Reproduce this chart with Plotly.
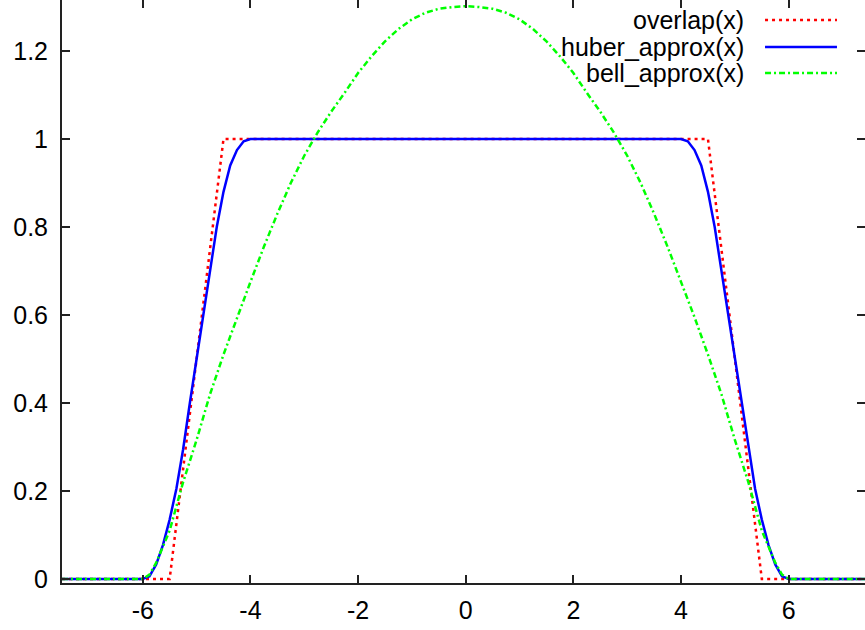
import plotly.graph_objects as go

# ---- data ----
overlap_x = [-7.5, -5.5, -4.5, 4.5, 5.5, 7.5]
overlap_y = [0.0, 0.0, 1.0, 1.0, 0.0, 0.0]

huber_x = [-7.5, -6.0, -5.875, -5.75, -5.625, -5.5, -5.375, -5.25, -5.125, -5.0,
           -4.875, -4.75, -4.625, -4.5, -4.375, -4.25, -4.125, -4.0,
           4.0, 4.125, 4.25, 4.375, 4.5, 4.625, 4.75, 4.875, 5.0,
           5.125, 5.25, 5.375, 5.5, 5.625, 5.75, 5.875, 6.0, 7.5]
huber_y = [0.0, 0.0, 0.006, 0.033, 0.077, 0.135, 0.205, 0.295, 0.400, 0.500,
           0.603, 0.700, 0.800, 0.880, 0.940, 0.975, 0.995, 1.0,
           1.0, 0.995, 0.975, 0.940, 0.880, 0.800, 0.700, 0.603, 0.500,
           0.400, 0.295, 0.205, 0.135, 0.077, 0.033, 0.006, 0.0, 0.0]

bell_x = [-7.5, -6.0, -5.875, -5.75, -5.5, -5.25, -5.0, -4.75, -4.5, -4.25, -4.0,
          -3.75, -3.5, -3.25, -3.0, -2.75, -2.5, -2.25, -2.0, -1.75, -1.5,
          -1.25, -1.0, -0.75, -0.5, -0.25, 0.0,
          0.25, 0.5, 0.75, 1.0, 1.25, 1.5, 1.75, 2.0, 2.25, 2.5,
          2.75, 3.0, 3.25, 3.5, 3.75, 4.0, 4.25, 4.5, 4.75, 5.0,
          5.25, 5.5, 5.75, 5.875, 6.0, 7.5]
bell_y = [0.0, 0.0, 0.010, 0.037, 0.110, 0.220, 0.316, 0.420, 0.510, 0.595, 0.675,
          0.755, 0.830, 0.900, 0.962, 1.015, 1.062, 1.105, 1.150, 1.188, 1.222,
          1.250, 1.272, 1.287, 1.296, 1.300, 1.302,
          1.300, 1.296, 1.287, 1.272, 1.250, 1.222, 1.188, 1.150, 1.105, 1.062,
          1.015, 0.962, 0.900, 0.830, 0.755, 0.675, 0.595, 0.510, 0.420, 0.316,
          0.220, 0.110, 0.037, 0.010, 0.0, 0.0]

x_ticks = [-6, -4, -2, 0, 2, 4, 6]
x_tick_labels = ["-6", "-4", "-2", "0", "2", "4", "6"]
y_ticks = [0, 0.2, 0.4, 0.6, 0.8, 1.0, 1.2]
y_tick_labels = ["0", "0.2", "0.4", "0.6", "0.8", "1", "1.2"]

series_names = ["overlap(x)", "huber_approx(x)", "bell_approx(x)"]
series_colors = ["#ff0000", "#0000ff", "#00ff00"]
series_dash = ["3px,4px", "solid", "6px,3px,2px,3px"]

X_RANGE = [-7.5, 7.417]
Y_RANGE = [-0.0091, 1.316]
FONT = "Liberation Sans, Arial, sans-serif"

fig = go.Figure()
for xs, ys, nm, col, dsh in zip([overlap_x, huber_x, bell_x],
                                [overlap_y, huber_y, bell_y],
                                series_names, series_colors, series_dash):
    fig.add_trace(go.Scatter(x=xs, y=ys, mode="lines", name=nm,
                             line=dict(color=col, width=2.5, dash=dsh),
                             showlegend=False))

# invisible trace for mirrored top/right tick axes
fig.add_trace(go.Scatter(x=[None], y=[None], xaxis="x2", yaxis="y2",
                         showlegend=False, hoverinfo="skip"))

axis_common = dict(showgrid=False, zeroline=False, ticks="inside", ticklen=8,
                   tickwidth=1.5, tickcolor="#222", automargin=False)

fig.update_layout(
    width=865, height=630,
    margin=dict(l=62, r=0, t=0, b=47),
    paper_bgcolor="white", plot_bgcolor="white",
    font=dict(family=FONT, size=25, color="black"),
    xaxis=dict(range=X_RANGE, tickvals=x_ticks, ticktext=x_tick_labels,
               showline=True, linecolor="#222", linewidth=2,
               ticklabelstandoff=4, **axis_common),
    yaxis=dict(range=Y_RANGE, tickvals=y_ticks, ticktext=y_tick_labels,
               showline=True, linecolor="#222", linewidth=2,
               ticklabelstandoff=7, **axis_common),
    xaxis2=dict(range=X_RANGE, tickvals=x_ticks, overlaying="x", side="top",
                showticklabels=False, showline=False, **axis_common),
    yaxis2=dict(range=Y_RANGE, tickvals=y_ticks, overlaying="y", side="right",
                showticklabels=False, showline=False, **axis_common),
)

# legend built manually (text right-aligned, sample to the right)
legend_y = [0.9657, 0.9194, 0.8748]
for nm, col, dsh, ly in zip(series_names, series_colors, series_dash, legend_y):
    fig.add_annotation(x=0.8506, y=ly, xref="paper", yref="paper",
                       text=nm, showarrow=False, xanchor="right", yanchor="middle",
                       font=dict(family=FONT, size=25, color="black"), borderpad=0)
    fig.add_shape(type="line", xref="paper", yref="paper",
                  x0=0.8755, x1=0.9651, y0=ly, y1=ly,
                  line=dict(color=col, width=2.5, dash=dsh))

fig.write_html("out.html")
